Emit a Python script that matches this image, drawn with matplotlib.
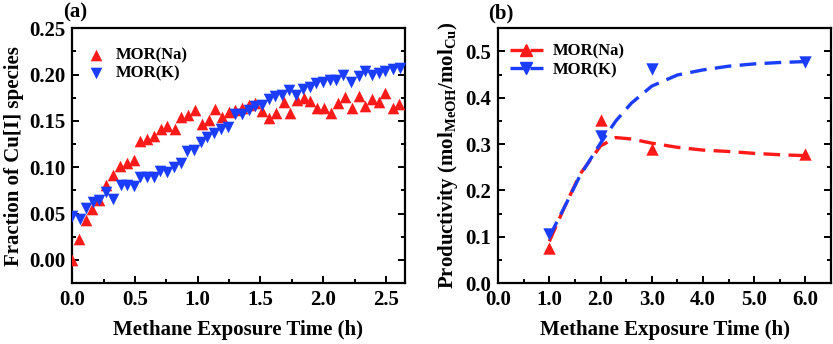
import numpy as np
import matplotlib
matplotlib.use('Agg')
import matplotlib.pyplot as plt
from matplotlib.ticker import MultipleLocator

# (a) fraction of Cu[I] vs time
t_na = [0.00, 0.055, 0.106, 0.159, 0.215, 0.270, 0.325, 0.380, 0.438, 0.491,
        0.542, 0.597, 0.653, 0.706, 0.756, 0.815, 0.865, 0.924, 0.977, 1.035,
        1.088, 1.141, 1.194, 1.247, 1.300, 1.354, 1.407, 1.460, 1.513, 1.566,
        1.627, 1.685, 1.738, 1.791, 1.844, 1.898, 1.951, 2.004, 2.065, 2.118,
        2.176, 2.229, 2.282, 2.335, 2.389, 2.442, 2.495, 2.556, 2.605]
cu_na = [0.000, 0.023, 0.043, 0.055, 0.065, 0.081, 0.092, 0.101, 0.105, 0.108,
         0.128, 0.131, 0.134, 0.141, 0.144, 0.141, 0.154, 0.156, 0.162, 0.147,
         0.151, 0.163, 0.154, 0.160, 0.162, 0.164, 0.167, 0.169, 0.161, 0.153,
         0.159, 0.170, 0.158, 0.173, 0.175, 0.172, 0.164, 0.164, 0.159, 0.169,
         0.176, 0.164, 0.177, 0.166, 0.174, 0.170, 0.180, 0.164, 0.168]
t_k = [0.000, 0.058, 0.109, 0.162, 0.215, 0.268, 0.326, 0.385, 0.440, 0.491,
       0.539, 0.597, 0.650, 0.703, 0.756, 0.812, 0.865, 0.918, 0.971, 1.024,
       1.077, 1.130, 1.184, 1.242, 1.300, 1.354, 1.407, 1.460, 1.513, 1.566,
       1.619, 1.672, 1.725, 1.786, 1.839, 1.892, 1.945, 1.998, 2.051, 2.104,
       2.158, 2.224, 2.282, 2.335, 2.389, 2.442, 2.495, 2.556, 2.610]
cu_k = [0.047, 0.044, 0.056, 0.062, 0.065, 0.073, 0.066, 0.081, 0.081, 0.080,
        0.089, 0.090, 0.090, 0.096, 0.095, 0.100, 0.105, 0.118, 0.119, 0.127,
        0.133, 0.137, 0.141, 0.143, 0.157, 0.157, 0.162, 0.166, 0.167, 0.174,
        0.177, 0.178, 0.183, 0.178, 0.184, 0.187, 0.191, 0.192, 0.194, 0.194,
        0.200, 0.192, 0.198, 0.204, 0.200, 0.202, 0.204, 0.206, 0.207]

# (b) productivity
t_prod = [1, 2, 3, 6]
prod_na = [0.075, 0.353, 0.290, 0.278]
prod_k = [0.105, 0.318, 0.461, 0.478]

# dashed trend curves
t_fit = [1.0, 1.3, 1.6, 2.0, 2.3, 2.6, 3.0, 3.5, 4.0, 4.5, 5.0, 5.5, 6.0]
fit_na = [0.090, 0.165, 0.235, 0.296, 0.314, 0.311, 0.302, 0.293, 0.287, 0.284, 0.280, 0.277, 0.275]
fit_k = [0.100, 0.165, 0.232, 0.302, 0.350, 0.388, 0.425, 0.449, 0.460, 0.468, 0.473, 0.476, 0.478]

RED = '#ff1a1a'
BLUE = '#1a3dff'

plt.rcParams['font.family'] = 'Liberation Serif'
plt.rcParams['font.weight'] = 'bold'
plt.rcParams['axes.labelweight'] = 'bold'
plt.rcParams['mathtext.fontset'] = 'custom'
plt.rcParams['mathtext.rm'] = 'Liberation Serif:bold'
plt.rcParams['mathtext.it'] = 'Liberation Serif:bold'
plt.rcParams['mathtext.bf'] = 'Liberation Serif:bold'

fig = plt.figure(figsize=(8.33, 3.44), dpi=100)
ax1 = fig.add_axes([0.0868, 0.177, 0.399, 0.741])
ax2 = fig.add_axes([0.598, 0.177, 0.3995, 0.741])


def style(ax):
    for s in ax.spines.values():
        s.set_linewidth(1.6)
    ax.tick_params(which='both', direction='in', right=True, top=False,
                   labelsize=15, width=1.4, pad=5)
    ax.tick_params(which='major', length=5)
    ax.tick_params(which='minor', length=3)
    for lab in ax.get_xticklabels() + ax.get_yticklabels():
        lab.set_fontweight('bold')


# panel (a)
ax1.scatter(t_na, cu_na, marker='^', s=70, color=RED, linewidths=0, label='MOR(Na)', zorder=3)
ax1.scatter(t_k, cu_k, marker='v', s=70, color=BLUE, linewidths=0, label='MOR(K)', zorder=3)
ax1.set_xlim(0, 2.65)
ax1.set_ylim(-0.025, 0.25)
ax1.xaxis.set_major_locator(MultipleLocator(0.5))
ax1.xaxis.set_minor_locator(MultipleLocator(0.25))
ax1.yaxis.set_major_locator(MultipleLocator(0.05))
ax1.yaxis.set_minor_locator(MultipleLocator(0.025))
ax1.set_xticks([0, 0.5, 1.0, 1.5, 2.0, 2.5])
ax1.set_xticklabels(['0.0', '0.5', '1.0', '1.5', '2.0', '2.5'])
ax1.set_yticks([0, 0.05, 0.10, 0.15, 0.20, 0.25])
ax1.set_yticklabels(['0.00', '0.05', '0.10', '0.15', '0.20', '0.25'])
ax1.set_xlabel('Methane Exposure Time (h)', fontsize=15, fontweight='bold', labelpad=7)
ax1.set_ylabel('Fraction of Cu[I] species', fontsize=15, fontweight='bold', labelpad=4)
style(ax1)
ax1.legend(loc='upper left', frameon=False, prop={'weight': 'bold', 'size': 12},
           handletextpad=0.2, borderaxespad=0.5, labelspacing=0.15,
           bbox_to_anchor=(-0.025, 0.985))
fig.text(0.09, 0.965, '(a)', fontsize=15, fontweight='bold', ha='center', va='center')

# panel (b)
ax2.plot(t_fit, fit_na, color=RED, lw=2.4, dashes=(5, 2.5), zorder=2)
ax2.plot(t_fit, fit_k, color=BLUE, lw=2.4, dashes=(5, 2.5), zorder=2)
ax2.scatter(t_prod, prod_na, marker='^', s=80, color=RED, linewidths=0, zorder=3)
ax2.scatter(t_prod, prod_k, marker='v', s=80, color=BLUE, linewidths=0, zorder=3)
h_na, = ax2.plot([], [], color=RED, lw=2.4, dashes=(4, 2), marker='^', ms=9, markevery=[1])
h_k, = ax2.plot([], [], color=BLUE, lw=2.4, dashes=(4, 2), marker='v', ms=9, markevery=[1])
ax2.set_xlim(0, 6.5)
ax2.set_ylim(0, 0.55)
ax2.xaxis.set_major_locator(MultipleLocator(1.0))
ax2.xaxis.set_minor_locator(MultipleLocator(0.5))
ax2.yaxis.set_major_locator(MultipleLocator(0.1))
ax2.yaxis.set_minor_locator(MultipleLocator(0.05))
ax2.set_xticks([0, 1, 2, 3, 4, 5, 6])
ax2.set_xticklabels(['0.0', '1.0', '2.0', '3.0', '4.0', '5.0', '6.0'])
ax2.set_yticks([0, 0.1, 0.2, 0.3, 0.4, 0.5])
ax2.set_yticklabels(['0.0', '0.1', '0.2', '0.3', '0.4', '0.5'])
ax2.set_xlabel('Methane Exposure Time (h)', fontsize=15, fontweight='bold', labelpad=7)
ax2.set_ylabel(r'Productivity (mol$_{\rm MeOH}$/mol$_{\rm Cu}$)', fontsize=15,
               fontweight='bold', labelpad=4)
style(ax2)
ax2.legend([h_na, h_k], ['MOR(Na)', 'MOR(K)'], loc='upper left', frameon=False,
           prop={'weight': 'bold', 'size': 12}, handlelength=2.0,
           handletextpad=0.6, borderaxespad=0.3, labelspacing=0.15,
           bbox_to_anchor=(0.0, 0.985))
fig.text(0.601, 0.96, '(b)', fontsize=15, fontweight='bold', ha='center', va='center')

fig.savefig('out.png', dpi=100)
